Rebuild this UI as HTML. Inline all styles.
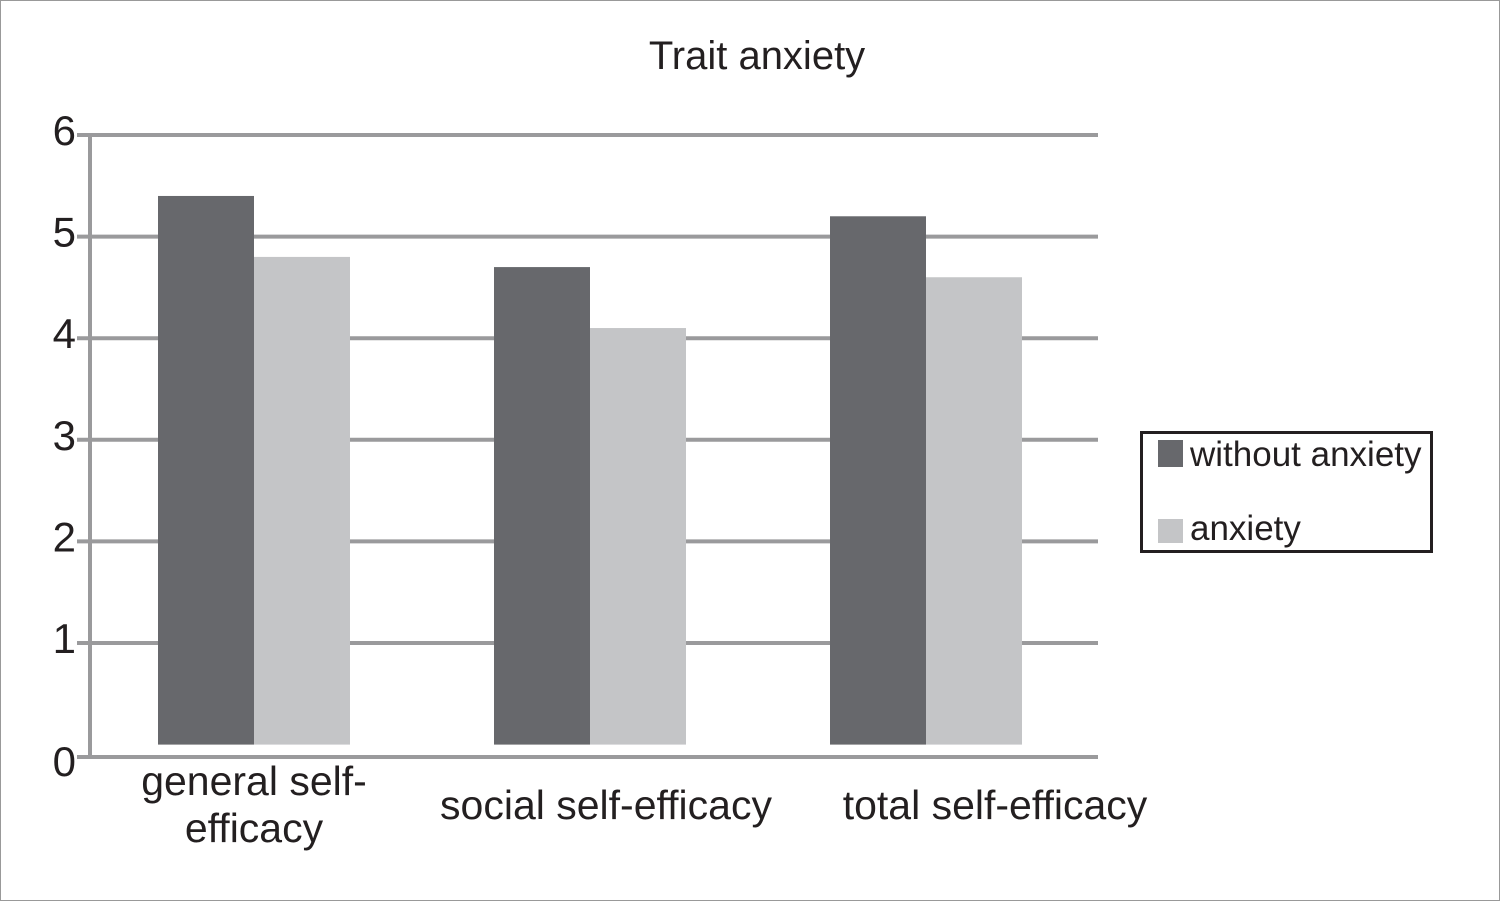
<!DOCTYPE html>
<html><head><meta charset="utf-8"><style>
html,body{margin:0;padding:0;background:#fff}
svg{display:block;font-family:"Liberation Sans",Arial,sans-serif}
</style></head><body>
<svg id="chart" width="1500" height="901" viewBox="0 0 1500 901" xmlns="http://www.w3.org/2000/svg">
<rect x="0.5" y="0.5" width="1499" height="900" fill="#fff" stroke="#999" stroke-width="1"/>
<text x="757" y="69" font-size="40" text-anchor="middle" fill="#231f20">Trait anxiety</text>
<g id="grid"></g>
<g id="bars"></g>
<g id="labels"></g>
<g>
<rect x="1141.5" y="432.5" width="290" height="119" fill="#fff" stroke="#231f20" stroke-width="3"/>
<rect x="1158" y="440" width="25" height="27" fill="#67686c"/>
<text x="1190" y="466" font-size="35" fill="#231f20">without anxiety</text>
<rect x="1158" y="519" width="25" height="24" fill="#c4c5c7"/>
<text x="1190" y="540" font-size="35" fill="#231f20">anxiety</text>
</g>
</svg>
<script>
const categories = [["general self-","efficacy"],["social self-efficacy"],["total self-efficacy"]];
const withoutAnxiety = [5.4, 4.7, 5.2];
const anxiety = [4.8, 4.1, 4.6];
const ticks = [0,1,2,3,4,5,6];

const NS="http://www.w3.org/2000/svg";
const y0=744.6, unit=101.6, plotL=90, plotR=1098, barW=96;
const groupW=(plotR-plotL)/categories.length;
const labelShift=[0,16,69];
const y=v=>y0-v*unit;
const cx=i=>plotL+groupW*(i+0.5)-4;
function mk(tag,attrs,parent){const e=document.createElementNS(NS,tag);for(const k in attrs)e.setAttribute(k,attrs[k]);parent.appendChild(e);return e;}
const grid=document.getElementById('grid'),bars=document.getElementById('bars'),labels=document.getElementById('labels');
ticks.forEach(t=>{
  const gy=t===0?757:y(t);
  const l=mk('line',{x1:77,x2:plotR,y1:gy,y2:gy,stroke:'#9a9a9c','stroke-width':4},grid);
  
  
  const tx=mk('text',{x:76,y:t===0?776:gy+10,'font-size':42,'text-anchor':'end',fill:'#231f20'},labels);
  tx.textContent=t;
  
  
});
const ax=mk('line',{x1:90,x2:90,y1:133,y2:759,stroke:'#9a9a9c','stroke-width':4},grid);


categories.forEach((c,i)=>{
  const b1=mk('rect',{x:cx(i)-barW,y:y(withoutAnxiety[i]),width:barW,height:y0-y(withoutAnxiety[i]),fill:'#67686c'},bars);
  
  
  const b2=mk('rect',{x:cx(i),y:y(anxiety[i]),width:barW,height:y0-y(anxiety[i]),fill:'#c4c5c7'},bars);
  
  
  c.forEach((line,j)=>{
    const t=mk('text',{x:cx(i)+labelShift[i],y:(c.length>1?795:819)+j*47,'font-size':41,'text-anchor':'middle',fill:'#231f20'},labels);
    t.textContent=line;
    
    
  });
});
</script>
</body></html>
